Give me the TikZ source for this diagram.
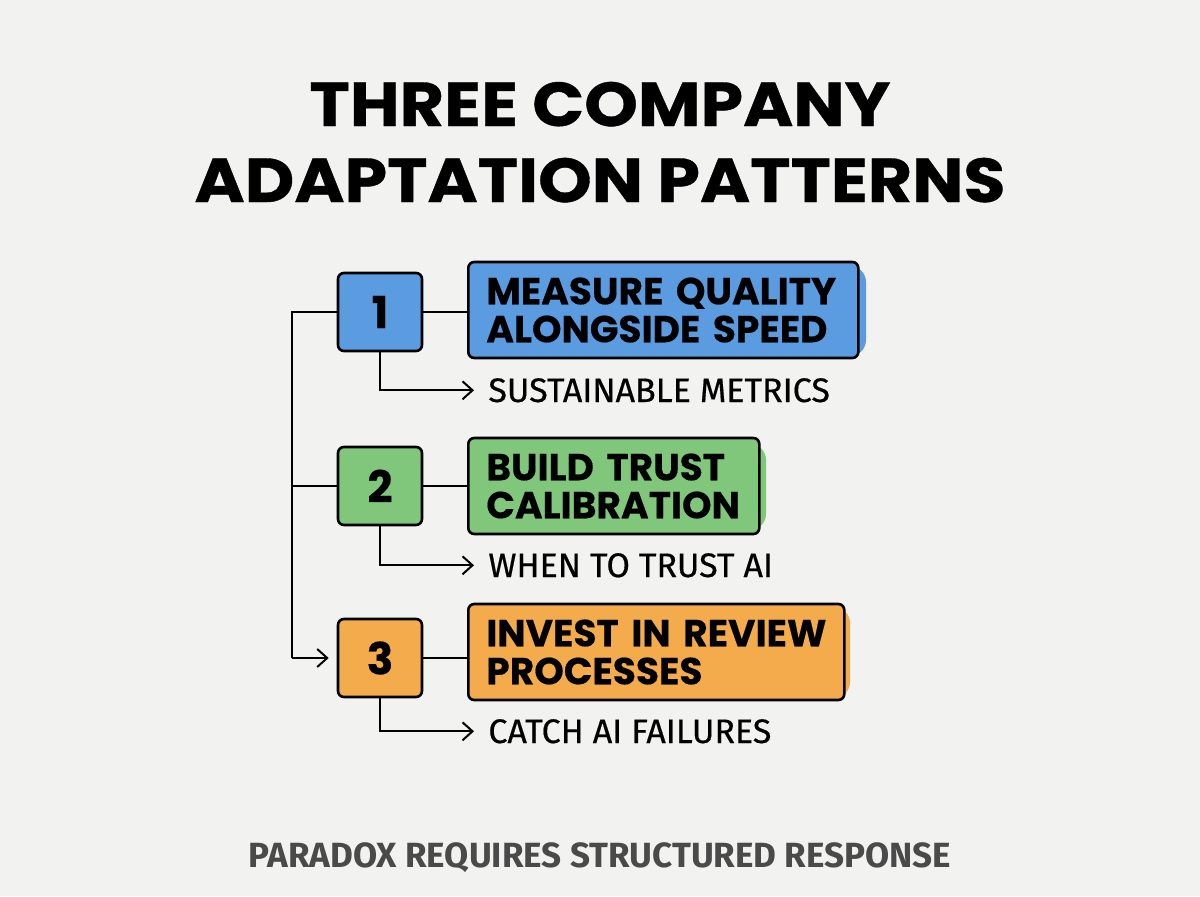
\documentclass[tikz,border=0pt]{standalone}
\usepackage{fontspec}
\setmainfont{Poppins}
\newfontfamily\titlefont{Poppins}[FakeStretch=1.1, FakeBold=0.6]
\newfontfamily\boxfont{Poppins}[FakeBold=0.4]
\newfontfamily\subfont{Fira Sans}[FakeBold=0.5]
\newfontfamily\footfont{Fira Sans}
\usetikzlibrary{arrows.meta}
\definecolor{bg}{HTML}{F2F2F0}
\definecolor{cblue}{HTML}{5B9BE0}
\definecolor{cgreen}{HTML}{80C77C}
\definecolor{corange}{HTML}{F3AB4C}
\definecolor{foot}{HTML}{4A4A4A}
\begin{document}
\begin{tikzpicture}[x=0.5pt,y=-0.5pt,
  title/.style={font=\titlefont\bfseries\fontsize{31}{33}\selectfont, anchor=base, inner sep=0pt},
  numbox/.style={draw=black, line width=1.3pt, rounded corners=3pt, minimum width=42pt, minimum height=39pt, inner sep=0pt, font=\boxfont\bfseries\fontsize{22}{22}\selectfont},
  mainbox/.style={draw=black, line width=1.3pt, rounded corners=3pt, anchor=west, minimum height=48pt, inner xsep=9pt, inner ysep=0pt, align=left, font=\boxfont\bfseries\fontsize{18.8}{19}\selectfont},
  blob/.style={rounded corners=8pt},
  sublabel/.style={anchor=base west, inner sep=0pt, font=\subfont\fontsize{17}{17}\selectfont},
  conn/.style={line width=1pt, draw=black},
  tip/.style={-{Straight Barb[length=5pt,width=9pt,line width=1pt]}},
  footer/.style={anchor=base, inner sep=0pt, text=foot, font=\footfont\bfseries\fontsize{17.5}{18}\selectfont}
]
\fill[bg] (0,0) rectangle (1200,896);
\useasboundingbox (0,0) rectangle (1200,896);

\node[title] (t1) at (600,126) {THREE COMPANY};
\node[title] (t2) at (600,202) {ADAPTATION PATTERNS};

% colour blobs peeking out behind the outlined boxes
\fill[cblue, blob] (474,266) rectangle (866,356);
\fill[cgreen, blob] (474,444) rectangle (766,530);
\fill[corange, blob] (474,607) rectangle (850,698);

\node[numbox, fill=cblue] (n1) at (380,312) {1};
\node[numbox, fill=cgreen] (n2) at (380,486) {2};
\node[numbox, fill=corange] (n3) at (380,658) {3};

\node[mainbox, fill=cblue, minimum width=195pt, text width=177pt] (m1) at (467,310) {MEASURE QUALITY\\ALONGSIDE SPEED};
\node[mainbox, fill=cgreen, minimum width=145.5pt, text width=127.5pt] (m2) at (467,486) {BUILD TRUST\\CALIBRATION};
\node[mainbox, fill=corange, minimum width=188pt, text width=170pt] (m3) at (467,652) {\mbox{INVEST IN REVIEW}\\PROCESSES};

\node[sublabel] (s1) at (488,402) {SUSTAINABLE METRICS};
\node[sublabel] (s2) at (488,577) {WHEN TO TRUST AI};
\node[sublabel] (s3) at (488,743) {CATCH AI FAILURES};

\coordinate (sptop) at (292,312);
\coordinate (spbot) at (292,658);

\draw[conn] (n1.east) -- (n1.east -| m1.west);
\draw[conn] (n2.east) -- (n2.east -| m2.west);
\draw[conn] (n3.east) -- (n3.east -| m3.west);

\draw[conn, tip] (n1.south) |- ([xshift=-7pt]s1.west);
\draw[conn, tip] (n2.south) |- ([xshift=-7pt]s2.west);
\draw[conn, tip] (n3.south) |- ([xshift=-7pt]s3.west);

\draw[conn] (n1.west) -- (sptop) -- (spbot);
\draw[conn] (n2.west) -- (n2.west -| sptop);
\draw[conn, tip, shorten >=4pt] (spbot) -- (n3.west);

\node[footer] (f) at (600,867) {PARADOX REQUIRES STRUCTURED RESPONSE};
\end{tikzpicture}
\end{document}
